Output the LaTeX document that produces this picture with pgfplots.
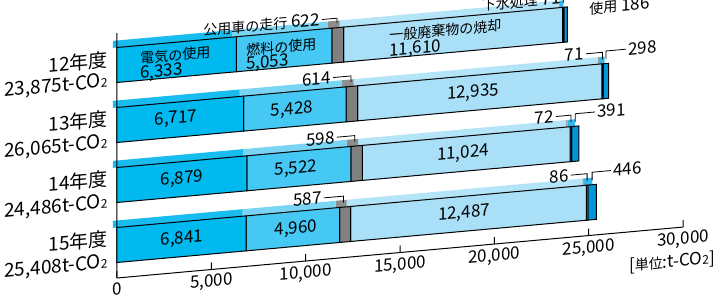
\documentclass[border=0pt]{standalone}
\usepackage{pgfplots}
\pgfplotsset{compat=1.18}
\usepackage{fontspec}
\setmainfont{Noto Sans CJK JP}
\definecolor{elecF}{HTML}{00B9EF}
\definecolor{elecT}{HTML}{18BCEE}
\definecolor{fuelF}{HTML}{45C8F3}
\definecolor{fuelT}{HTML}{7AD5F5}
\definecolor{carF}{HTML}{808080}
\definecolor{carT}{HTML}{8E8E8E}
\definecolor{wasteF}{HTML}{A9DFF7}
\definecolor{wasteT}{HTML}{B4E4F8}
\definecolor{sewF}{HTML}{B4B4B4}
\definecolor{sewT}{HTML}{A0A0A0}
\definecolor{useF}{HTML}{0096D8}
\definecolor{useT}{HTML}{33B8EC}
\newcommand{\COt}{t-CO{\fontsize{6}{6}\selectfont 2}}
\newcommand{\jp}[1]{{\fontsize{7}{8}\selectfont #1}}
\tikzset{
  yl/.style={font=\fontsize{9.5}{11}\selectfont, anchor=east, inner sep=0pt},
  bl/.style={inner sep=0pt},
  wl/.style={inner sep=0pt, anchor=west},
  ll/.style={inner sep=0pt},
  ld/.style={line width=0.4pt}
}
\pgfplotsset{geom/.style={anchor=south west, scale only axis,
  width=283pt, height=122.5pt, xmin=0, xmax=30000, ymin=0, ymax=245, clip=false}}
\begin{document}
\begin{tikzpicture}[font=\fontsize{8.5}{10}\selectfont]
\useasboundingbox (-58.5pt,-13pt) rectangle (302.5pt,139pt);
\begin{scope}[transform canvas={cm={1,0.09,0,1,(0pt,0pt)}}]
% top faces
\begin{axis}[geom, at={(-2pt,0pt)}, hide axis, xbar stacked, bar width=7, bar shift=0]
\addplot[fill=elecT, draw=none] coordinates {(6333,234) (6717,174) (6879,114) (6841,54)};
\addplot[fill=fuelT, draw=none] coordinates {(5053,234) (5428,174) (5522,114) (4960,54)};
\addplot[fill=carT, draw=none] coordinates {(622,234) (614,174) (598,114) (587,54)};
\addplot[fill=wasteT, draw=none] coordinates {(11610,234) (12935,174) (11024,114) (12487,54)};
\addplot[fill=sewT, draw=none] coordinates {(71,234) (71,174) (72,114) (86,54)};
\addplot[fill=useT, draw=none] coordinates {(186,234) (298,174) (391,114) (446,54)};
\end{axis}
% front faces
\begin{axis}[geom, at={(0pt,0pt)},
  axis lines*=left, axis line style={line width=0.5pt},
  xbar stacked, bar width=35, bar shift=0,
  xtick={0,5000,10000,15000,20000,25000,30000}, ytick=\empty,
  scaled x ticks=false, tick align=inside, major tick length=3.5pt,
  tick style={line width=0.5pt, black},
  xticklabel style={/pgf/number format/1000 sep={,}, /pgf/number format/assume math mode=true, font=\fontsize{8.5}{10}\selectfont, yshift=1pt}]
\addplot[fill=elecF, draw=black, line width=0.5pt] coordinates {(6333,213) (6717,153) (6879,93) (6841,33)};
\addplot[fill=fuelF, draw=black, line width=0.5pt] coordinates {(5053,213) (5428,153) (5522,93) (4960,33)};
\addplot[fill=carF, draw=black, line width=0.5pt] coordinates {(622,213) (614,153) (598,93) (587,33)};
\addplot[fill=wasteF, draw=black, line width=0.5pt] coordinates {(11610,213) (12935,153) (11024,93) (12487,33)};
\addplot[fill=sewF, draw=black, line width=0.5pt] coordinates {(71,213) (71,153) (72,93) (86,33)};
\addplot[fill=useF, draw=black, line width=0.5pt] coordinates {(186,213) (298,153) (391,93) (446,33)};
\end{axis}
% annotations
\begin{axis}[geom, at={(0pt,0pt)}, hide axis]
\node[yl] at (axis cs:-477,219) {12年度};
\node[yl] at (axis cs:-477,197) {23,875\COt};
\node[yl] at (axis cs:-477,160) {13年度};
\node[yl] at (axis cs:-477,136) {26,065\COt};
\node[yl] at (axis cs:-477,100) {14年度};
\node[yl] at (axis cs:-477,76) {24,486\COt};
\node[yl] at (axis cs:-477,40) {15年度};
\node[yl] at (axis cs:-477,16) {25,408\COt};
\node[wl] at (axis cs:1219,217.5) {\jp{電気の使用}};
\node[wl] at (axis cs:1219,201.5) {6,333};
\node[wl] at (axis cs:6837,216) {\jp{燃料の使用}};
\node[wl] at (axis cs:6837,201.5) {5,053};
\node[wl] at (axis cs:14416,218) {\jp{一般廃棄物の焼却}};
\node[wl] at (axis cs:14416,202) {11,610};
\node[bl] at (axis cs:3127,154) {6,717};
\node[bl] at (axis cs:9275,152) {5,428};
\node[bl] at (axis cs:18868,153) {12,935};
\node[bl] at (axis cs:3445,93) {6,879};
\node[bl] at (axis cs:9487,93) {5,522};
\node[bl] at (axis cs:18338,93) {11,024};
\node[bl] at (axis cs:3445,33) {6,841};
\node[bl] at (axis cs:9487,33) {4,960};
\node[bl] at (axis cs:18391,33) {12,487};
\node[ll, anchor=east] at (axis cs:10759,240) {\jp{公用車の走行} 622};
\draw[ld] (axis cs:10865,240) -- (axis cs:11660,240) -- (axis cs:11660,235);
\node[ll, anchor=east] at (axis cs:23532,240) {\jp{下水処理} 71};
\draw[ld] (axis cs:23600,240) -- (axis cs:23653,240) -- (axis cs:23653,235);
\node[ll, anchor=west] at (axis cs:25016,227) {\jp{使用} 186};
\node[ll, anchor=east] at (axis cs:11342,181) {614};
\draw[ld] (axis cs:11450,181) -- (axis cs:12402,181) -- (axis cs:12402,175);
\node[ll, anchor=east] at (axis cs:24751,182) {71};
\draw[ld] (axis cs:24850,182) -- (axis cs:25730,182) -- (axis cs:25730,175);
\node[ll, anchor=west] at (axis cs:27083,183) {298};
\draw[ld] (axis cs:26980,183) -- (axis cs:25914,183) -- (axis cs:25914,175);
\node[ll, anchor=east] at (axis cs:11554,121) {598};
\draw[ld] (axis cs:11660,121) -- (axis cs:12600,121) -- (axis cs:12600,115);
\node[ll, anchor=east] at (axis cs:23161,122) {72};
\draw[ld] (axis cs:23260,122) -- (axis cs:24059,122) -- (axis cs:24059,115);
\node[ll, anchor=west] at (axis cs:25440,123) {391};
\draw[ld] (axis cs:25340,123) -- (axis cs:24290,123) -- (axis cs:24290,115);
\node[ll, anchor=east] at (axis cs:10865,61.5) {587};
\draw[ld] (axis cs:10970,61.5) -- (axis cs:12000,61.5) -- (axis cs:12000,55);
\node[ll, anchor=east] at (axis cs:23956,62) {86};
\draw[ld] (axis cs:24060,62) -- (axis cs:24918,62) -- (axis cs:24918,55);
\node[ll, anchor=west] at (axis cs:26288,63) {446};
\draw[ld] (axis cs:26180,63) -- (axis cs:25184,63) -- (axis cs:25184,55);
\node[ll] at (axis cs:29415,-34) {[\jp{単位}:\COt]};
\end{axis}
\end{scope}
\end{tikzpicture}
\end{document}
